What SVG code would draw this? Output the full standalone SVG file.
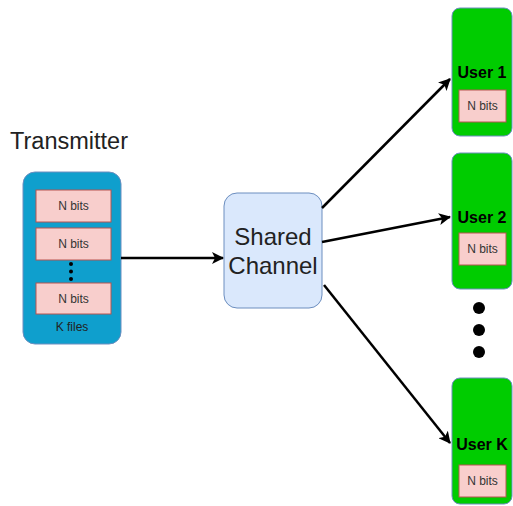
<svg xmlns="http://www.w3.org/2000/svg" width="513" height="506" viewBox="0 0 513 506">
<style>
text{font-family:"Liberation Sans",Arial,sans-serif;text-anchor:middle;}
.bits{fill:#f8cecc;stroke:#b85450;stroke-width:1;}
.bt{font-size:12px;fill:#333;}
.user{fill:#00cc00;stroke:#6c8ebf;stroke-width:1;}
.ut{font-size:16px;font-weight:bold;fill:#000;}
.conn{stroke:#000;stroke-width:2.5;fill:none;}
</style>
<defs>
<marker id="arr" markerWidth="12" markerHeight="12" refX="11" refY="6" orient="auto" markerUnits="userSpaceOnUse" viewBox="0 0 12 12">
<path d="M0,0 L12,6 L0,12 L3,6 Z" fill="#000"/>
</marker>
</defs>
<g id="transmitter">
<text x="69" y="149" style="font-size:23.5px;fill:#222;">Transmitter</text>
<rect x="23" y="172" width="98" height="172" rx="12" fill="#0f9fcd" stroke="#6c8ebf"/>
<rect class="bits" x="36" y="190" width="75" height="32"/>
<text class="bt" x="73.5" y="210">N bits</text>
<rect class="bits" x="36" y="228" width="75" height="32"/>
<text class="bt" x="73.5" y="248">N bits</text>
<circle cx="71" cy="264" r="2" fill="#000"/>
<circle cx="71" cy="271.5" r="2" fill="#000"/>
<circle cx="71" cy="279" r="2" fill="#000"/>
<rect class="bits" x="36" y="283" width="75" height="31"/>
<text class="bt" x="73.5" y="303">N bits</text>
<text x="72" y="331" style="font-size:12px;fill:#222;">K files</text>
</g>
<g id="channel">
<rect x="224" y="193" width="98" height="115" rx="13" fill="#dae8fc" stroke="#6c8ebf"/>
<text x="273" y="245" style="font-size:24px;fill:#222;">Shared</text>
<text x="273" y="274" style="font-size:24px;fill:#222;">Channel</text>
</g>
<g id="user1">
<rect class="user" x="452" y="8" width="60" height="128" rx="8"/>
<text class="ut" x="482" y="78">User 1</text>
<rect class="bits" x="459" y="90" width="47" height="32"/>
<text class="bt" x="482.5" y="110">N bits</text>
</g>
<g id="user2">
<rect class="user" x="452" y="153" width="60" height="136" rx="8"/>
<text class="ut" x="482" y="223">User 2</text>
<rect class="bits" x="459" y="233" width="47" height="32"/>
<text class="bt" x="482.5" y="253">N bits</text>
</g>
<g id="dots">
<circle cx="479" cy="308" r="6" fill="#000"/>
<circle cx="479" cy="330" r="6" fill="#000"/>
<circle cx="479" cy="352" r="6" fill="#000"/>
</g>
<g id="userK">
<rect class="user" x="452" y="378" width="60" height="126" rx="8"/>
<text class="ut" x="482" y="450">User K</text>
<rect class="bits" x="459" y="465" width="47" height="32"/>
<text class="bt" x="482.5" y="485">N bits</text>
</g>
<g id="connectors">
<line class="conn" x1="121" y1="258" x2="223" y2="258" marker-end="url(#arr)"/>
<line class="conn" x1="322" y1="208" x2="450" y2="79" marker-end="url(#arr)"/>
<line class="conn" x1="322" y1="242" x2="450" y2="217" marker-end="url(#arr)"/>
<line class="conn" x1="324" y1="285" x2="450" y2="443" marker-end="url(#arr)"/>
</g>
</svg>
